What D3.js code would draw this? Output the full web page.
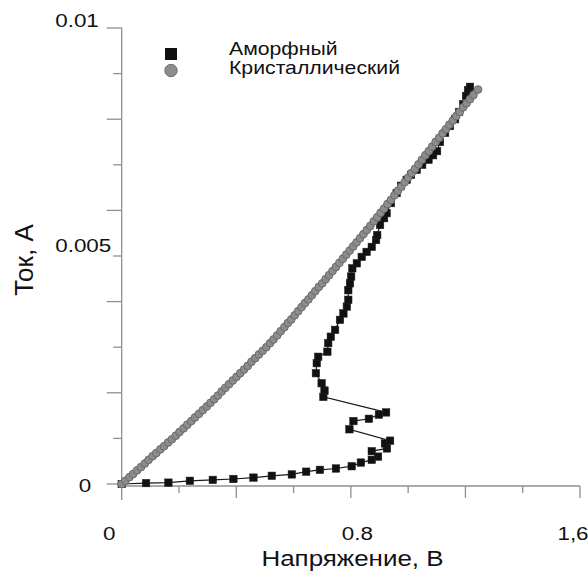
<!DOCTYPE html>
<html>
<head>
<meta charset="utf-8">
<script src="https://cdn.jsdelivr.net/npm/d3@7"></script>
<style>
  body { margin: 0; background: #fff; }
  text { font-family: "Liberation Sans", Arial, sans-serif; fill: #111; }
</style>
</head>
<body>
<div id="chart"></div>
<script>
// Аморфный: voltage (V) and current (A)
const amorphV = [0, 0.085, 0.163, 0.238, 0.318, 0.39, 0.46, 0.524, 0.594, 0.644, 0.692, 0.748, 0.803, 0.835, 0.873, 0.895,
  0.873, 0.926, 0.919, 0.937, 0.795, 0.809, 0.863, 0.898, 0.923, 0.704, 0.708, 0.698, 0.678, 0.681, 0.686, 0.718,
  0.721, 0.73, 0.745, 0.762, 0.774, 0.786, 0.791, 0.791, 0.797, 0.801, 0.805, 0.821, 0.838, 0.855, 0.873, 0.888,
  0.892, 0.902, 0.916, 0.925, 0.94, 0.96, 0.975, 0.995, 1.01, 1.03, 1.049, 1.071, 1.087, 1.101, 1.111, 1.129,
  1.146, 1.164, 1.178, 1.192, 1.202, 1.209, 1.216];
const amorphI = [0, 0.00002, 0.00003, 0.00007, 0.00009, 0.00011, 0.00014, 0.00018, 0.00021, 0.00027, 0.00031, 0.00034,
  0.00039, 0.00047, 0.00053, 0.0006, 0.00072, 0.00078, 0.00089, 0.00095, 0.0012, 0.00138, 0.00143, 0.00152, 0.00157,
  0.00191, 0.00205, 0.00221, 0.00243, 0.00265, 0.00279, 0.0029, 0.00309, 0.00323, 0.00338, 0.0036, 0.00374, 0.00389,
  0.00404, 0.00425, 0.0044, 0.00455, 0.00473, 0.00484, 0.00498, 0.00509, 0.0052, 0.00535, 0.00546, 0.00568, 0.00583,
  0.00594, 0.00616, 0.00638, 0.00654, 0.00667, 0.00678, 0.00689, 0.007, 0.00711, 0.00721, 0.0073, 0.0075, 0.0077,
  0.00785, 0.008, 0.00816, 0.00833, 0.00851, 0.00864, 0.00871];

// Кристаллический
const crystV = [0, 0.013, 0.027, 0.04, 0.054, 0.067, 0.081, 0.094, 0.108, 0.121, 0.135, 0.148, 0.162, 0.175, 0.189,
  0.202, 0.216, 0.229, 0.243, 0.256, 0.27, 0.283, 0.297, 0.31, 0.323, 0.336, 0.349, 0.362, 0.375, 0.388, 0.401,
  0.414, 0.427, 0.44, 0.453, 0.466, 0.479, 0.492, 0.505, 0.518, 0.53, 0.543, 0.555, 0.568, 0.58, 0.592, 0.604,
  0.616, 0.628, 0.64, 0.652, 0.664, 0.676, 0.688, 0.7, 0.712, 0.724, 0.736, 0.748, 0.76, 0.772, 0.784, 0.796,
  0.808, 0.82, 0.832, 0.844, 0.856, 0.868, 0.88, 0.892, 0.904, 0.916, 0.928, 0.94, 0.952, 0.964, 0.976, 0.988,
  1.0, 1.012, 1.024, 1.036, 1.048, 1.06, 1.072, 1.084, 1.096, 1.108, 1.12, 1.132, 1.144, 1.156, 1.168, 1.18,
  1.192, 1.204, 1.216, 1.228, 1.244];
const crystI = [0, 0.00007, 0.00015, 0.00022, 0.0003, 0.00037, 0.00045, 0.00053, 0.00061, 0.00068, 0.00076, 0.00083,
  0.00091, 0.00098, 0.00106, 0.00114, 0.00122, 0.0013, 0.00138, 0.00146, 0.00154, 0.00162, 0.0017, 0.00178, 0.00186,
  0.00194, 0.00203, 0.00211, 0.00219, 0.00227, 0.00235, 0.00243, 0.00251, 0.00259, 0.00268, 0.00276, 0.00284,
  0.00292, 0.003, 0.00309, 0.00317, 0.00326, 0.00335, 0.00344, 0.00353, 0.00361, 0.0037, 0.00379, 0.00388, 0.00397,
  0.00405, 0.00414, 0.00423, 0.00432, 0.0044, 0.00449, 0.00458, 0.00467, 0.00476, 0.00485, 0.00494, 0.00503,
  0.00512, 0.00521, 0.0053, 0.00539, 0.00548, 0.00557, 0.00566, 0.00576, 0.00585, 0.00595, 0.00604, 0.00614,
  0.00623, 0.00633, 0.00643, 0.00652, 0.00662, 0.00672, 0.00682, 0.00691, 0.00701, 0.00711, 0.00721, 0.0073,
  0.0074, 0.0075, 0.00759, 0.00769, 0.00778, 0.00788, 0.00797, 0.00807, 0.00816, 0.00826, 0.00835, 0.00844,
  0.00853, 0.00865];

const xTicks = [0, 0.2, 0.4, 0.6, 0.8, 1.0, 1.2, 1.4, 1.6];
const xTickLabels = [[0, "0"], [0.8, "0.8"], [1.6, "1,6"]];
const yTicks = [0, 0.001, 0.002, 0.003, 0.004, 0.005, 0.006, 0.007, 0.008, 0.009, 0.01];
const yTickLabels = [[0, "0"], [0.005, "0.005"], [0.01, "0.01"]];
const seriesNames = ["Аморфный", "Кристаллический"];

const width = 588, height = 571;
const stretch = 1.18; // text in the picture is a bit wider than normal

const svg = d3.select("#chart").append("svg")
  .attr("width", width)
  .attr("height", height);

const x = d3.scaleLinear().domain([0, 1.6]).range([121.7, 580]);
const y = d3.scaleLinear().domain([0, 0.01]).range([484, 28]);

const axisColor = "#8f8f8f";

// axes lines
svg.append("line")
  .attr("x1", x(0)).attr("x2", x(0))
  .attr("y1", y(0.01)).attr("y2", y(0) + 2)
  .attr("stroke", axisColor).attr("stroke-width", 1.3);
svg.append("line")
  .attr("x1", x(0)).attr("x2", x(1.6))
  .attr("y1", y(0) + 2).attr("y2", y(0) + 2)
  .attr("stroke", axisColor).attr("stroke-width", 1.3);

// y ticks: long on even thousandths, short on odd
svg.selectAll(".ytick")
  .data(yTicks)
  .enter().append("line")
  .attr("class", "ytick")
  .attr("x1", (d, i) => x(0) - (i % 2 === 0 ? 15 : 8.5))
  .attr("x2", x(0))
  .attr("y1", d => y(d)).attr("y2", d => y(d))
  .attr("stroke", axisColor).attr("stroke-width", 1.3);

svg.selectAll(".xtick")
  .data(xTicks)
  .enter().append("line")
  .attr("class", "xtick")
  .attr("x1", d => x(d)).attr("x2", d => x(d))
  .attr("y1", y(0) + 2)
  .attr("y2", (d, i) => y(0) + 2 + (i === 0 ? 14 : i % 2 === 0 ? 12 : 7))
  .attr("stroke", axisColor).attr("stroke-width", 1.3);

function stretchedText(px, py, str, size, anchor) {
  return svg.append("text")
    .attr("transform", `translate(${px},${py}) scale(${stretch},1)`)
    .attr("text-anchor", anchor || "start")
    .attr("font-size", size + "px")
    .text(str);
}

// tick labels (placed where the picture has them)
const yLabelShift = { "0": [-43, 8], "0.005": [-66.5, -4], "0.01": [-66.5, -1] };
yTickLabels.forEach(([v, t]) => {
  stretchedText(x(0) + yLabelShift[t][0], y(v) + yLabelShift[t][1], t, 19);
});
const xLabelShift = { "0": -12.5, "0.8": 6.5, "1,6": -7 };
xTickLabels.forEach(([v, t]) => {
  stretchedText(x(v) + xLabelShift[t], 540, t, 19, "middle");
});

// axis titles
stretchedText(352.5, 566, "Напряжение, В", 22, "middle");
svg.append("text")
  .attr("transform", "translate(33,260) rotate(-90)")
  .attr("text-anchor", "middle")
  .attr("font-size", "26px")
  .text("Ток, А");

// amorphous series: thin line + squares
const amorph = amorphV.map((v, i) => ({ v, c: amorphI[i] }));
const crystal = crystV.map((v, i) => ({ v, c: crystI[i] }));

svg.append("path")
  .datum(amorph)
  .attr("fill", "none")
  .attr("stroke", "#1a1a1a")
  .attr("stroke-width", 1.2)
  .attr("d", d3.line().x(d => x(d.v)).y(d => y(d.c)));

const sq = 7.5;
svg.selectAll(".sq")
  .data(amorph)
  .enter().append("rect")
  .attr("class", "sq")
  .attr("x", d => x(d.v) - sq / 2)
  .attr("y", d => y(d.c) - sq / 2)
  .attr("width", sq).attr("height", sq)
  .attr("fill", "#111")
  .attr("stroke", "#222").attr("stroke-width", 0.5);

// crystalline series: grey circles
svg.selectAll(".dot")
  .data(crystal)
  .enter().append("circle")
  .attr("class", "dot")
  .attr("cx", d => x(d.v))
  .attr("cy", d => y(d.c))
  .attr("r", 3.9)
  .attr("fill", "#8c8c8c")
  .attr("stroke", "#666").attr("stroke-width", 0.9);

// legend
const legend = svg.append("g").attr("transform", "translate(171,54)");
legend.append("rect")
  .attr("x", -6).attr("y", -6).attr("width", 12).attr("height", 12)
  .attr("fill", "#111");
legend.append("circle")
  .attr("cx", 0).attr("cy", 16.5).attr("r", 6.2)
  .attr("fill", "#8c8c8c").attr("stroke", "#6e6e6e").attr("stroke-width", 1);
stretchedText(229, 55, seriesNames[0], 18);
stretchedText(229, 73.5, seriesNames[1], 18);
</script>
</body>
</html>
